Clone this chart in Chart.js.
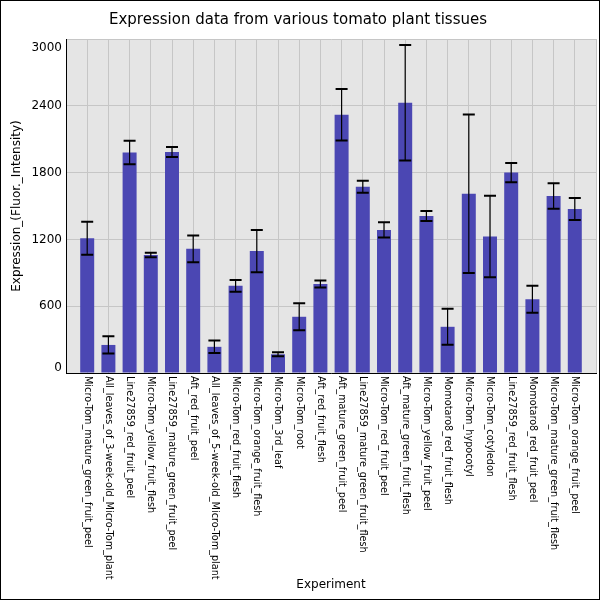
<!DOCTYPE html>
<html>
<head>
<meta charset="utf-8">
<script src="https://cdn.jsdelivr.net/npm/chart.js@4"></script>
<style>
  html, body { margin: 0; padding: 0; background: #fff; }
  #wrap { width: 600px; height: 600px; }
</style>
</head>
<body>
<div id="wrap"><canvas id="chart"></canvas></div>
<script>
// tissues in the order they are plotted
const tissues = [
    'Micro-Tom_mature_green_fruit_peel', 'All_leaves_of_3-week-old_Micro-Tom_plant', 'Line27859_red_fruit_peel',
    'Micro-Tom_yellow_fruit_flesh', 'Line27859_mature_green_fruit_peel', 'Aft_red_fruit_peel',
    'All_leaves_of_5-week-old_Micro-Tom_plant', 'Micro-Tom_red_fruit_flesh', 'Micro-Tom_orange_fruit_flesh',
    'Micro-Tom_3rd_leaf', 'Micro-Tom_root', 'Aft_red_fruit_flesh',
    'Aft_mature_green_fruit_peel', 'Line27859_mature_green_fruit_flesh', 'Micro-Tom_red_fruit_peel',
    'Aft_mature_green_fruit_flesh', 'Micro-Tom_yellow_fruit_peel', 'Momotaro8_red_fruit_flesh',
    'Micro-Tom_hypocotyl', 'Micro-Tom_cotyledon', 'Line27859_red_fruit_flesh',
    'Momotaro8_red_fruit_peel', 'Micro-Tom_mature_green_fruit_flesh', 'Micro-Tom_orange_fruit_peel'
];
const expression = [1210, 252, 1980, 1060, 1985, 1115, 235, 783, 1095, 168, 505, 800,
                    2320, 1673, 1285, 2428, 1410, 415, 1610, 1225, 1800, 663, 1590, 1473];
const errors = [148, 77, 105, 21, 45, 120, 56, 53, 189, 18, 121, 31,
                232, 53, 68, 519, 45, 162, 712, 366, 86, 121, 115, 99];
const yTicks = [0, 600, 1200, 1800, 2400, 3000];

const FONT = 'DejaVu Sans';

// background, error bars, rotated labels and the outer frame
const extras = {
    id: 'extras',
    beforeDraw(chart) {
        const { ctx, chartArea: a } = chart;
        ctx.save();
        ctx.fillStyle = '#fff';
        ctx.fillRect(0, 0, chart.width, chart.height);
        ctx.fillStyle = '#e5e5e5';
        ctx.fillRect(a.left, a.top, a.right - a.left, a.bottom - a.top);
        ctx.restore();
    },
    afterDatasetsDraw(chart) {
        const { ctx, scales: { x, y } } = chart;
        ctx.save();
        ctx.strokeStyle = '#000';
        expression.forEach((v, i) => {
            const px = x.getPixelForValue(i);
            const hi = y.getPixelForValue(v + errors[i]);
            const lo = y.getPixelForValue(v - errors[i]);
            ctx.lineWidth = 1.2;
            ctx.beginPath(); ctx.moveTo(px, hi); ctx.lineTo(px, lo); ctx.stroke();
            ctx.lineWidth = 2;
            ctx.beginPath();
            ctx.moveTo(px - 6, hi); ctx.lineTo(px + 6, hi);
            ctx.moveTo(px - 6, lo); ctx.lineTo(px + 6, lo);
            ctx.stroke();
        });
        ctx.restore();
    },
    afterDraw(chart) {
        const { ctx, chartArea: a, scales: { x, y } } = chart;
        ctx.save();
        ctx.fillStyle = '#000';
        // y tick labels, end ones kept inside the plot height
        ctx.font = '12px "' + FONT + '"';
        ctx.textAlign = 'right';
        ctx.textBaseline = 'middle';
        yTicks.forEach(t => {
            const py = Math.min(Math.max(y.getPixelForValue(t), a.top + 9), a.bottom - 5);
            ctx.fillText(String(t), a.left - 4, py);
        });
        // x labels read top to bottom
        ctx.font = '9.7px "' + FONT + '"';
        ctx.textAlign = 'left';
        tissues.forEach((name, i) => {
            ctx.save();
            ctx.translate(x.getPixelForValue(i), a.bottom + 3);
            ctx.rotate(Math.PI / 2);
            ctx.fillText(name, 0, 0);
            ctx.restore();
        });
        ctx.strokeStyle = '#000';
        ctx.lineWidth = 1;
        ctx.strokeRect(0.5, 0.5, chart.width - 1, chart.height - 1);
        ctx.restore();
    }
};

new Chart(document.getElementById('chart'), {
    type: 'bar',
    data: {
        datasets: [{
            label: 'Expression',
            data: expression.map((v, i) => ({ x: i, y: v })),
            backgroundColor: '#4b47b3',
            borderWidth: 0,
            barPercentage: 0.66,
            categoryPercentage: 1
        }]
    },
    options: {
        responsive: true,
        maintainAspectRatio: false,
        animation: false,
        layout: { padding: { left: 0, right: 4, top: 0, bottom: 0 } },
        plugins: {
            legend: { display: false },
            tooltip: { enabled: false },
            title: {
                display: true,
                text: 'Expression data from various tomato plant tissues',
                color: '#000',
                font: { family: FONT, size: 15, weight: 'normal', lineHeight: 1.2 },
                padding: { top: 11, bottom: 10 }
            }
        },
        scales: {
            x: {
                type: 'linear',
                offset: false,
                min: -1,
                max: tissues.length,
                afterBuildTicks: s => { s.ticks = [-1, ...tissues.map((_, i) => i), tissues.length].map(v => ({ value: v })); },
                afterFit: s => { s.height = 227; },
                ticks: { display: false },
                grid: { color: '#c6c6c6', drawTicks: false, offset: false },
                border: { color: '#000', width: 1 },
                title: {
                    display: true,
                    text: 'Experiment',
                    color: '#000',
                    font: { family: FONT, size: 12, lineHeight: 1.2 },
                    padding: { top: 0, bottom: 8 }
                }
            },
            y: {
                min: 0,
                max: 3000,
                afterBuildTicks: s => { s.ticks = yTicks.map(v => ({ value: v })); },
                afterFit: s => { s.width = 66; },
                ticks: { display: false },
                grid: { color: '#c6c6c6', drawTicks: false },
                border: { color: '#000', width: 1 },
                title: {
                    display: true,
                    text: 'Expression_(Fluor._Intensity)',
                    color: '#000',
                    font: { family: FONT, size: 12, lineHeight: 1.2 },
                    padding: { top: 10, bottom: 0 }
                }
            }
        }
    },
    plugins: [extras]
});
</script>
</body>
</html>
